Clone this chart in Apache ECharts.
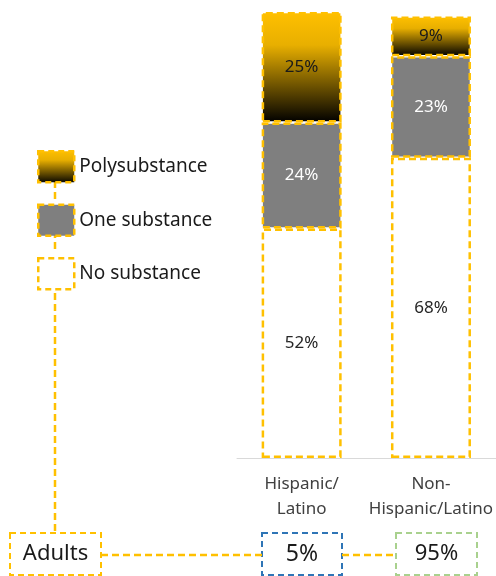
<!DOCTYPE html>
<html>
<head>
<meta charset="utf-8">
<script src="https://cdn.jsdelivr.net/npm/echarts@6/dist/echarts.min.js"></script>
<style>
  html, body { margin: 0; padding: 0; background: #fff; }
  #chart { width: 496px; height: 576px; }
</style>
</head>
<body>
<div id="chart"></div>
<script>
// Substance use among adults, by ethnicity (stacked shares, %)
const categories = ['Hispanic/\nLatino', 'Non-\nHispanic/Latino'];
const noSubstance = [52, 68];
const oneSubstance = [24, 23];
const polysubstance = [25, 9];
const populationShare = [5, 95];
const groupLabel = 'Adults';

const GOLD = '#FFC000';
const FONT = '"Noto Sans", "Open Sans", sans-serif';

const chart = echarts.init(document.getElementById('chart'));

const dashedBorder = {
  borderColor: GOLD,
  borderWidth: 2.5,
  borderType: [7, 4]
};

function segment(name, data, fill, labelColor) {
  return {
    name: name,
    type: 'bar',
    stack: 'total',
    barWidth: 80,
    data: data,
    itemStyle: Object.assign({ color: fill }, dashedBorder),
    label: {
      show: true,
      position: 'inside',
      formatter: '{c}%',
      color: labelColor,
      fontFamily: FONT,
      fontSize: 17
    },
    emphasis: { disabled: true }
  };
}

const polyFill = new echarts.graphic.LinearGradient(0, 0, 0, 1, [
  { offset: 0, color: '#FFC000' },
  { offset: 0.3, color: '#E8AF00' },
  { offset: 1, color: '#000000' }
]);

// Box around a text value, outlined with a dashed stroke
function dashedBox(x, y, w, h, stroke, text, size) {
  return {
    type: 'group',
    x: x, y: y,
    children: [
      { type: 'rect', shape: { x: 0, y: 0, width: w, height: h },
        style: { fill: '#fff', stroke: stroke, lineWidth: 2, lineDash: [6, 4] } },
      { type: 'text', x: w / 2, y: h / 2,
        style: { text: text, fill: '#1a1a1a', font: size + 'px ' + FONT,
                 align: 'center', verticalAlign: 'middle' } }
    ]
  };
}

function dashedLine(x1, y1, x2, y2) {
  return { type: 'line', shape: { x1: x1, y1: y1, x2: x2, y2: y2 },
           style: { stroke: GOLD, lineWidth: 2.5, lineDash: [7, 4] }, z: 1 };
}

chart.setOption({
  animation: false,
  grid: { left: 237, right: 0, top: 12, bottom: 118 },
  legend: {
    orient: 'vertical',
    left: 32,
    top: 145,
    itemWidth: 36,
    itemHeight: 31,
    itemGap: 20,
    icon: 'rect',
    selectedMode: false,
    data: ['Polysubstance', 'One substance', 'No substance'],
    itemStyle: { borderColor: GOLD, borderWidth: 2.5, borderType: [6, 4] },
    textStyle: { fontFamily: FONT, fontSize: 19, lineHeight: 20, color: '#1a1a1a' }
  },
  xAxis: {
    type: 'category',
    data: categories,
    axisLine: { lineStyle: { color: '#d9d9d9', width: 1 } },
    axisTick: { show: false },
    axisLabel: { interval: 0, hideOverlap: false, fontFamily: FONT, fontSize: 17,
                 color: '#404040', lineHeight: 25, margin: 14 }
  },
  yAxis: { type: 'value', min: 0, max: 101, show: false },
  series: [
    segment('No substance', noSubstance, '#ffffff', '#262626'),
    segment('One substance', oneSubstance, '#7F7F7F', '#ffffff'),
    segment('Polysubstance', polysubstance, polyFill, '#1a1a1a')
  ],
  graphic: [
    dashedLine(55, 181, 55, 200),
    dashedLine(55, 231, 55, 251),
    dashedLine(55, 282, 55, 533),
    dashedLine(101, 555, 262, 555),
    dashedLine(342, 555, 396, 555),
    dashedBox(10, 533, 91, 42, GOLD, groupLabel, 22),
    dashedBox(262, 533, 80, 42, '#2E75B6', populationShare[0] + '%', 23),
    dashedBox(396, 533, 81, 42, '#A9D18E', populationShare[1] + '%', 22)
  ]
});
</script>
</body>
</html>
